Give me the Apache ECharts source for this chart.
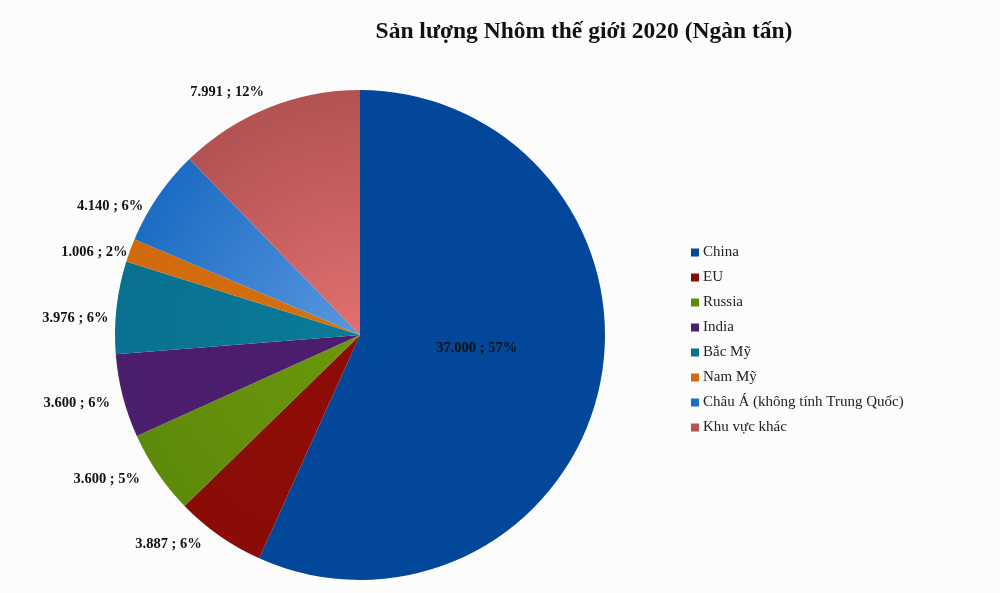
<!DOCTYPE html>
<html>
<head>
<meta charset="utf-8">
<script src="https://cdn.jsdelivr.net/npm/echarts@6/dist/echarts.min.js"></script>
<style>
html,body{margin:0;padding:0;background:#fcfcfc;}
#c{width:1000px;height:593px;}
</style>
</head>
<body>
<div id="c"></div>
<script>
const categories = ['China','EU','Russia','India','Bắc Mỹ','Nam Mỹ','Châu Á (không tính Trung Quốc)','Khu vực khác'];
const values = [37000, 3887, 3600, 3600, 3976, 1006, 4140, 7991];
const pctLabels = ['57%','6%','5%','6%','6%','2%','6%','12%'];
const colorsOuter = ['#02479a','#8a0c06','#5e8a0a','#4a1f6c','#0a7090','#d06a0c','#1c6cc4','#b25252'];
const colorsInner = ['#02489a','#900c06','#6c980c','#4c1c6e','#087c98','#d8700c','#5a98e0','#e27070'];

// small layout nudges so label placement follows the original chart's label layout
const labelNudge = [[-6,-13],[-4,2],[-2,2],[4,5],[9,12],[14,5],[1,14],[8,-8]];

const CX = 360, CY = 335, R = 245;

function fmt(v){
  return String(v).replace(/\B(?=(\d{3})+(?!\d))/g, '.');
}

const data = categories.map((name, i) => ({
  name: name,
  value: values[i],
  itemStyle: {
    color: {
      type: 'radial', x: CX, y: CY, r: R, global: true,
      colorStops: [{offset: 0, color: colorsInner[i]}, {offset: 1, color: colorsOuter[i]}]
    }
  },
  label: i === 0 ? {position: 'inside'} : {}
}));

const chart = echarts.init(document.getElementById('c'));
chart.setOption({
  backgroundColor: '#fcfcfc',
  animation: false,
  title: {
    text: 'Sản lượng Nhôm thế giới 2020 (Ngàn tấn)',
    left: 579, top: 15, textAlign: 'center',
    textStyle: {fontFamily: 'Liberation Serif', fontWeight: 'bold', fontSize: 23.5, color: '#111'}
  },
  legend: {
    orient: 'vertical',
    left: 686, top: 240,
    icon: 'rect', itemWidth: 8, itemHeight: 8, itemGap: 10,
    textStyle: {fontFamily: 'Liberation Serif', fontSize: 15, color: '#222', padding: [0,0,0,-1]},
    data: categories
  },
  series: [{
    type: 'pie',
    center: [CX, CY],
    radius: [0, R],
    startAngle: 90,
    clockwise: true,
    avoidLabelOverlap: false,
    data: data,
    label: {
      show: true,
      position: 'outside',
      fontFamily: 'Liberation Serif', fontWeight: 'bold', fontSize: 14.5, color: '#111',
      formatter: p => fmt(values[p.dataIndex]) + ' ; ' + pctLabels[p.dataIndex]
    },
    labelLine: {show: false, length: 8, length2: 4},
    labelLayout: p => ({dx: labelNudge[p.dataIndex][0], dy: labelNudge[p.dataIndex][1]})
  }]
});
</script>
</body>
</html>
